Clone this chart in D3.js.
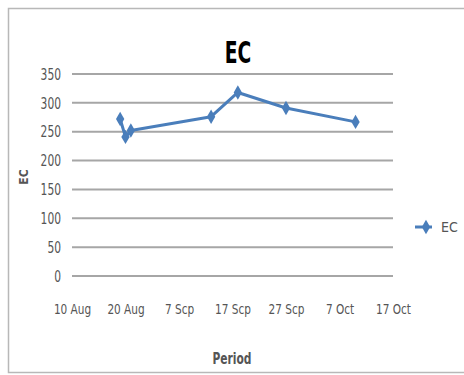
<!DOCTYPE html>
<html><head><meta charset="utf-8">
<script src="https://cdn.jsdelivr.net/npm/d3@7"></script>
<style>body{margin:0;background:#fff}svg{display:block}</style>
</head><body>
<svg id="c" width="464" height="375"></svg>
<script>
// Data (x = days after 10 Aug on a 10-day tick axis)
const seriesName = "EC";
const dayOffsets = [9, 10, 11, 26, 31, 40, 53];
const ecValues = [272, 241, 252, 276, 318, 291, 267];
const xTickValues = [0, 10, 20, 30, 40, 50, 60];
const xTickLabels = ["10 Aug", "20 Aug", "7 Scp", "17 Scp", "27 Scp", "7 Oct", "17 Oct"];
const yTickValues = [0, 50, 100, 150, 200, 250, 300, 350];

const svg = d3.select("#c");
const font = "'DejaVu Sans Condensed','Liberation Sans Narrow',sans-serif";
const blue = "#4a7ebb";

svg.append("rect").attr("x", 8.5).attr("y", 8.5).attr("width", 470).attr("height", 364)
  .attr("fill", "#fff").attr("stroke", "#b8b8b8").attr("stroke-width", 1.5);

const x = d3.scaleLinear().domain([0, 60]).range([72, 393]);
const y = d3.scaleLinear().domain([0, 350]).range([276, 74]);

// gridlines
svg.append("g").selectAll("line").data(yTickValues).join("line")
  .attr("x1", x(0)).attr("x2", x(60))
  .attr("y1", d => y(d)).attr("y2", d => y(d))
  .attr("stroke", "#a6a6a6").attr("stroke-width", 2);

// y axis labels
const yAxis = d3.axisLeft(y).tickValues(yTickValues).tickSize(0).tickPadding(0);
const gy = svg.append("g").attr("transform", "translate(61,0)").call(yAxis);
gy.select(".domain").remove();
gy.selectAll("text").attr("font-family", font).attr("font-size", 14)
  .attr("fill", "#555").attr("transform", "scale(0.85,1.15)");

// x axis labels
const xAxis = d3.axisBottom(x).tickValues(xTickValues).tickSize(0).tickPadding(0)
  .tickFormat((d, i) => xTickLabels[i]);
const gx = svg.append("g").attr("transform", "translate(0,303)").call(xAxis);
gx.select(".domain").remove();
gx.selectAll("text").attr("font-family", font).attr("font-size", 13).attr("fill", "#555")
  .attr("transform", "scale(0.9,1.15)");

// line
const line = d3.line().x((d, i) => x(dayOffsets[i])).y(d => y(d));
svg.append("path").datum(ecValues).attr("d", line)
  .attr("fill", "none").attr("stroke", blue).attr("stroke-width", 3).attr("stroke-linejoin", "round");

const diamond = d3.symbol().type(d3.symbolDiamond).size(60);
svg.append("g").selectAll("path").data(ecValues).join("path")
  .attr("d", diamond)
  .attr("transform", (d, i) => `translate(${x(dayOffsets[i])},${y(d)})`)
  .attr("fill", blue);

// title
svg.append("text").attr("transform", "translate(238,63) scale(0.8,1.15)").attr("text-anchor", "middle")
  .attr("font-family", font).attr("font-weight", "bold").attr("font-size", 26).attr("fill", "#000")
  .text("EC");

// axis titles
svg.append("text").attr("transform", "translate(232,364) scale(0.85,1.15)").attr("text-anchor", "middle")
  .attr("font-family", font).attr("font-weight", "bold").attr("font-size", 14).attr("fill", "#555")
  .text("Period");
svg.append("text").attr("transform", "translate(28,177) rotate(-90)").attr("text-anchor", "middle")
  .attr("font-family", font).attr("font-weight", "bold").attr("font-size", 12).attr("fill", "#555")
  .text("EC");

// legend
const lg = svg.append("g");
lg.append("line").attr("x1", 415).attr("x2", 432).attr("y1", 227).attr("y2", 227)
  .attr("stroke", blue).attr("stroke-width", 3);
lg.append("path").attr("d", diamond).attr("transform", "translate(426,227)").attr("fill", blue);
lg.append("text").attr("x", 441).attr("y", 232).attr("font-family", font).attr("font-size", 14)
  .attr("fill", "#555").text(seriesName);
</script>
</body></html>
